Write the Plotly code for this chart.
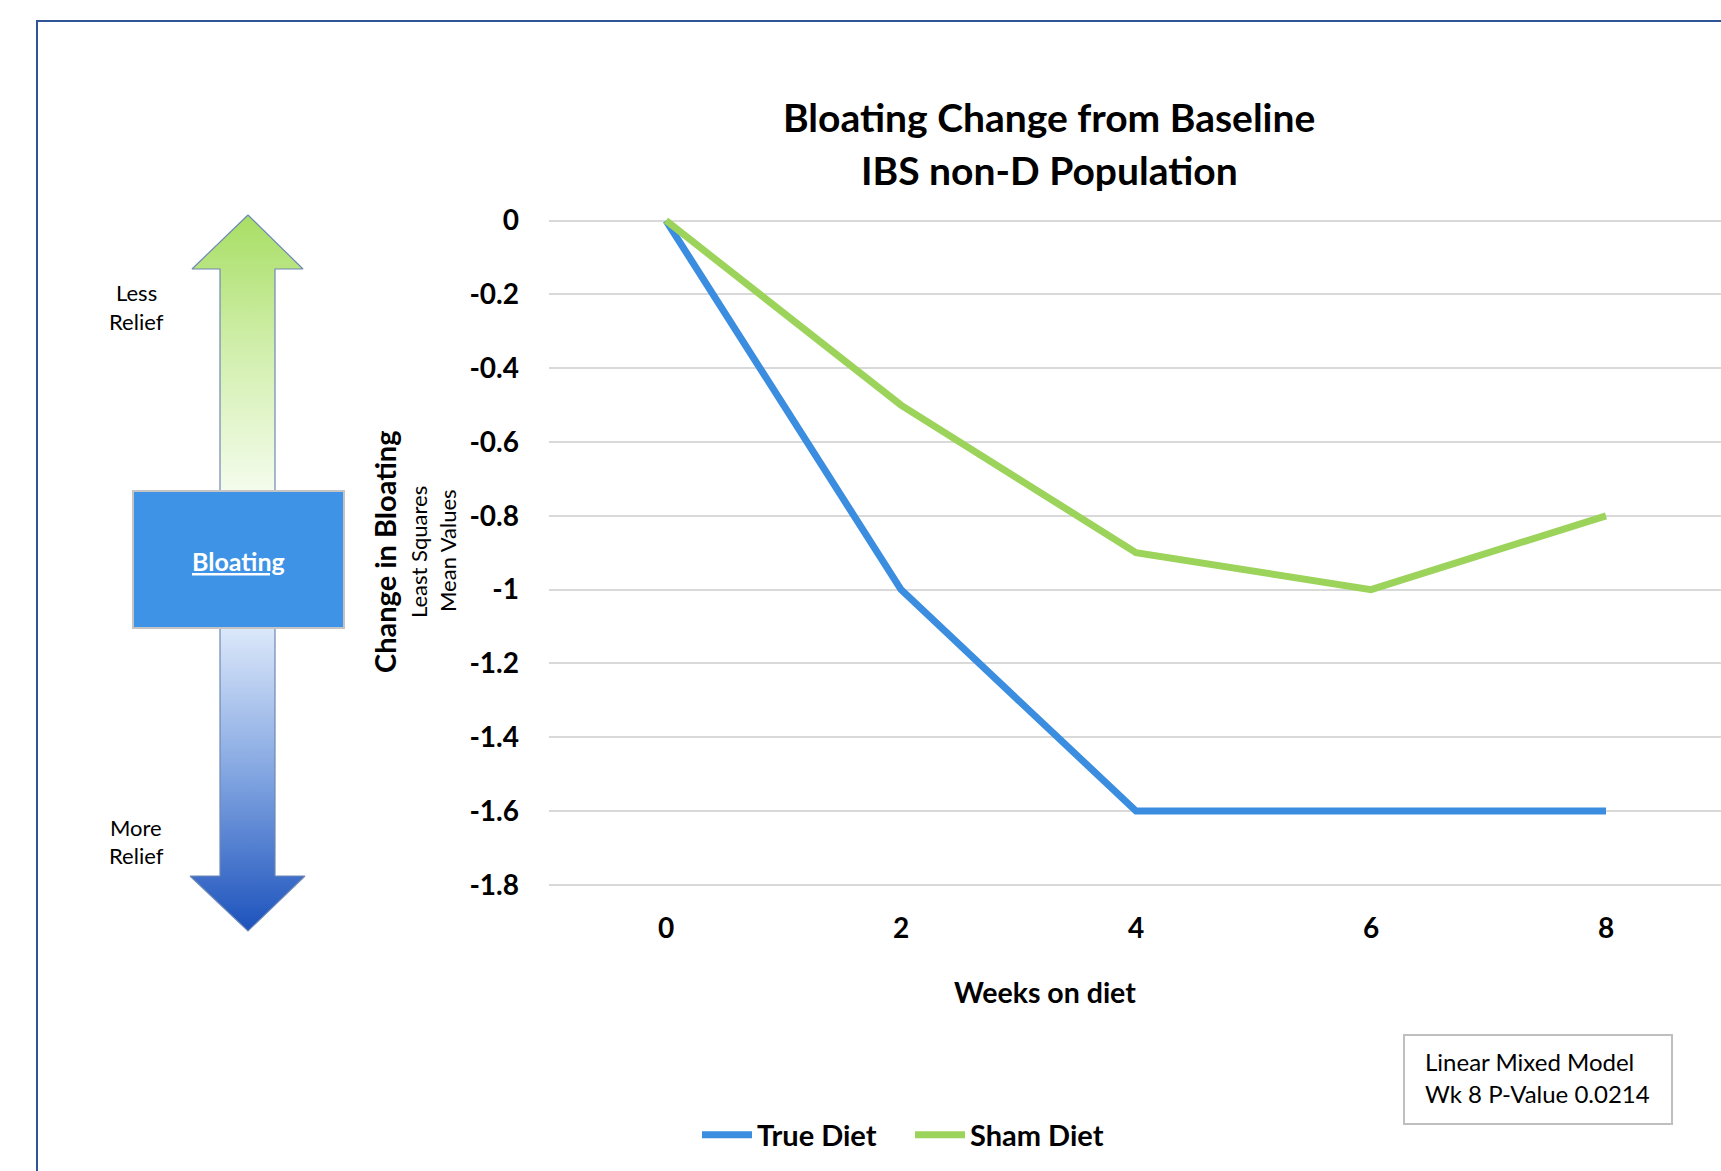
import plotly.graph_objects as go

# ---------------- data ----------------
weeks = [0, 2, 4, 6, 8]
true_diet = [0, -1.0, -1.6, -1.6, -1.6]
sham_diet = [0, -0.5, -0.9, -1.0, -0.8]
series_names = ["True Diet", "Sham Diet"]
y_tickvals = [0, -0.2, -0.4, -0.6, -0.8, -1.0, -1.2, -1.4, -1.6, -1.8]
y_ticktext = ["0", "-0.2", "-0.4", "-0.6", "-0.8", "-1", "-1.2", "-1.4", "-1.6", "-1.8"]
x_tickvals = [0, 2, 4, 6, 8]
x_ticktext = ["0", "2", "4", "6", "8"]

# ---------------- layout constants (pixels) ----------------
W, H = 1721, 1171
FONT = "Lato, 'Open Sans', 'DejaVu Sans', sans-serif"
BLUE = "#3B8DDF"
GREEN = "#9CD35A"

# plot area
px_left, px_right = 549, 1721
x0_px, x_per_unit = 666, 117.5
y0_px, y_per_unit = 220.6, 369.0
yr = [-1.81, 0.01]
top_px = y0_px - yr[1] * y_per_unit
bot_px = y0_px - yr[0] * y_per_unit
xr = [(px_left - x0_px) / x_per_unit, (px_right - x0_px) / x_per_unit]

fig = go.Figure()

fig.add_trace(go.Scatter(x=weeks, y=true_diet, name=series_names[0], mode="lines",
                         line=dict(color=BLUE, width=7)))
fig.add_trace(go.Scatter(x=weeks, y=sham_diet, name=series_names[1], mode="lines",
                         line=dict(color=GREEN, width=7)))

# ---------- decorative arrows on pixel-mapped overlay axes ----------
up_x = [248, 303, 275, 275, 220, 220, 192, 248]
up_y = [215, 269, 269, 491, 491, 269, 269, 215]
dn_x = [220, 275, 275, 305, 248, 190, 220, 220]
dn_y = [628, 628, 876, 876, 931, 876, 876, 628]

fig.add_trace(go.Scatter(
    x=up_x, y=up_y, xaxis="x2", yaxis="y2", mode="lines", fill="toself",
    line=dict(color="#6E88B4", width=1.2), hoverinfo="skip", showlegend=False,
    fillgradient=dict(type="vertical", start=215, stop=491,
                      colorscale=[[0, "#A8DE64"], [0.5, "#D2EFAE"], [1, "#F4FCEC"]])))
fig.add_trace(go.Scatter(
    x=dn_x, y=dn_y, xaxis="x2", yaxis="y2", mode="lines", fill="toself",
    line=dict(color="#6E88B4", width=1.2), hoverinfo="skip", showlegend=False,
    fillgradient=dict(type="vertical", start=628, stop=931,
                      colorscale=[[0, "#DCE8FA"], [0.5, "#7FA3E0"], [1, "#1C52BC"]])))

shapes = [
    # outer frame
    dict(type="path", xref="x2", yref="y2", path=f"M 37 {H} L 37 21 L {W} 21",
         line=dict(color="#2F5597", width=2)),
    # Bloating box
    dict(type="rect", xref="x2", yref="y2", x0=133, x1=344, y0=491, y1=628,
         fillcolor="#3E93E6", line=dict(color="#C4C4C4", width=2)),
    # stats box
    dict(type="rect", xref="x2", yref="y2", x0=1404, x1=1672, y0=1035, y1=1124,
         fillcolor="white", line=dict(color="#BFBFBF", width=2)),
]

def ann(text, x, y, size, bold=False, color="black", angle=0, xanchor="center"):
    return dict(text=text, x=x, y=y, xref="x2", yref="y2", showarrow=False,
                xanchor=xanchor, yanchor="middle", textangle=angle,
                font=dict(family=FONT, size=size, color=color,
                          weight="bold" if bold else "normal"))

annotations = [
    ann("Bloating Change from Baseline", 1049, 117, 39, bold=True),
    ann("IBS non-D Population", 1049, 170, 39, bold=True),
    ann("Weeks on diet", 1045, 992, 28.5, bold=True),
    ann("Change in Bloating", 384, 552, 29, bold=True, angle=-90),
    ann("Least Squares", 418, 552, 22, angle=-90),
    ann("Mean Values", 447, 551, 22, angle=-90),
    ann("<u>Bloating</u>", 238, 561, 25, bold=True, color="white"),
    ann("Less", 136, 292, 22),
    ann("Relief", 136, 321, 22),
    ann("More", 136, 827, 22),
    ann("Relief", 136, 855, 22),
    ann("Linear Mixed Model", 1423, 1061, 24, xanchor="left"),
    ann("Wk 8 P-Value 0.0214", 1423, 1093, 24, xanchor="left"),
]

fig.update_layout(
    template="none",
    width=W, height=H,
    margin=dict(l=0, r=0, t=0, b=0, pad=0, autoexpand=False),
    paper_bgcolor="white", plot_bgcolor="rgba(0,0,0,0)",
    font=dict(family=FONT, color="black"),
    xaxis=dict(domain=[px_left / W, px_right / W], range=xr, automargin=False,
               tickvals=x_tickvals, ticktext=x_ticktext,
               showgrid=False, zeroline=False, showline=False, ticks="",
               ticklabelstandoff=21,
               tickfont=dict(family=FONT, size=28, color="black", weight="bold")),
    yaxis=dict(domain=[1 - bot_px / H, 1 - top_px / H], range=yr, automargin=False,
               tickvals=y_tickvals, ticktext=y_ticktext,
               showgrid=True, gridcolor="#D9D9D9", gridwidth=1.5,
               zeroline=False, showline=False, ticks="",
               ticklabelstandoff=29,
               tickfont=dict(family=FONT, size=28, color="black", weight="bold")),
    xaxis2=dict(domain=[0, 1], range=[0, W], visible=False, anchor="y2",
                fixedrange=True, automargin=False),
    yaxis2=dict(domain=[0, 1], range=[H, 0], visible=False, anchor="x2",
                fixedrange=True, automargin=False),
    showlegend=True,
    legend=dict(orientation="h", x=697 / W, y=1 - 1135 / H, xanchor="left", yanchor="middle",
                font=dict(family=FONT, size=29, color="black", weight="bold"),
                bgcolor="rgba(0,0,0,0)", itemwidth=50, tracegroupgap=0,
                entrywidth=148, entrywidthmode="pixels"),
    shapes=shapes,
    annotations=annotations,
)

fig.write_html("out.html")
